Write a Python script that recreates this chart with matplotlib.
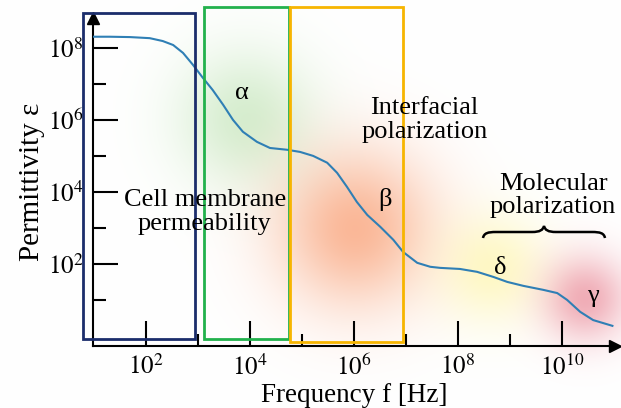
import matplotlib
matplotlib.use("Agg")
import matplotlib.pyplot as plt
import numpy as np
from matplotlib.path import Path
from matplotlib.patches import PathPatch, Rectangle

# ---- data (log10 values)
LOG_F = [0.99, 1.31, 1.70, 2.08, 2.33, 2.53, 2.72, 2.91, 3.10, 3.29, 3.49,
         3.68, 3.87, 4.14, 4.39, 4.72, 4.97, 5.22, 5.49, 5.68, 5.87, 6.06,
         6.26, 6.51, 6.76, 6.95, 7.22, 7.47, 7.66, 8.04, 8.37, 8.68, 8.95,
         9.26, 9.64, 9.91, 10.10, 10.35, 10.60, 10.97]
LOG_EPS = [8.31, 8.31, 8.30, 8.27, 8.19, 8.08, 7.86, 7.53, 7.17, 6.83, 6.42,
           6.00, 5.67, 5.39, 5.22, 5.17, 5.11, 5.00, 4.81, 4.53, 4.14, 3.72,
           3.36, 3.03, 2.67, 2.33, 2.03, 1.92, 1.89, 1.86, 1.78, 1.64, 1.50,
           1.39, 1.28, 1.19, 1.00, 0.67, 0.44, 0.28]

X_TICKS = [2, 4, 6, 8, 10]
X_MINOR = [3, 5, 7, 9]
Y_TICKS = [2, 4, 6, 8]
Y_MINOR = [1, 3, 5, 7]

# frequency bands (log10 f) and vertical extent (log10 eps) of the boxes
BANDS = {
    "membrane":    (0.79, 2.95, -0.08, 8.97),
    "alpha":       (3.12, 4.76, -0.08, 9.14),
    "interfacial": (4.78, 6.95, -0.17, 9.14),
}
BAND_COLORS = {"membrane": "#1b2d6b", "alpha": "#22b14c", "interfacial": "#f7b500"}

GREEK = [("α", 3.86, 6.75), ("β", 6.60, 3.78), ("δ", 8.81, 1.89), ("γ", 10.60, 1.11)]

W, H = 621, 408
plt.rcParams["font.family"] = ["Liberation Serif", "DejaVu Serif"]
plt.rcParams["mathtext.fontset"] = "stix"

fig = plt.figure(figsize=(W / 100, H / 100), dpi=100)

# ---- soft coloured blobs in the background (pixel coords)
bg = fig.add_axes([0, 0, 1, 1], zorder=0)
yy, xx = np.mgrid[0:H, 0:W]
img = np.ones((H, W, 3))
blobs = [  # (cx, cy), sigma, rgb, strength
    ((245, 118), 48, (0.62, 0.84, 0.56), 0.42),
    ((355, 228), 55, (0.97, 0.55, 0.35), 0.62),
    ((492, 268), 38, (1.00, 0.96, 0.60), 0.55),
    ((585, 298), 30, (0.90, 0.45, 0.52), 0.58),
]
for (cx, cy), s, rgb, k in blobs:
    a = k * np.exp(-((xx - cx) ** 2 + (yy - cy) ** 2) / (2 * s ** 2))
    img = img * (1 - a[..., None]) + np.array(rgb) * a[..., None]
bg.imshow(img, extent=(0, W, H, 0), aspect="auto", interpolation="bilinear")
bg.set_xlim(0, W)
bg.set_ylim(H, 0)
bg.axis("off")

# ---- main axes
ax = fig.add_axes([93 / W, (H - 346) / H, (615 - 93) / W, (346 - 18) / H], zorder=1)
ax.patch.set_alpha(0)
ax.set_xscale("log")
ax.set_yscale("log")
ax.set_xlim(10 ** 0.99, 10 ** 11.02)
ax.set_ylim(10 ** -0.28, 10 ** 8.83)

ax.plot(10 ** np.array(LOG_F), 10 ** np.array(LOG_EPS), color="#2f7fb5", lw=1.5,
        solid_joinstyle="round", zorder=3)

for key, (x0, x1, y0, y1) in BANDS.items():
    ax.add_patch(Rectangle((10 ** x0, 10 ** y0), 10 ** x1 - 10 ** x0, 10 ** y1 - 10 ** y0,
                           fill=False, ec=BAND_COLORS[key], lw=2.0, clip_on=False, zorder=4))

for s in ["top", "right"]:
    ax.spines[s].set_visible(False)
for s in ["left", "bottom"]:
    ax.spines[s].set_linewidth(1.5)
ax.plot(1, 0, ">", color="k", ms=9, transform=ax.transAxes, clip_on=False)
ax.plot(0, 1, "^", color="k", ms=9, transform=ax.transAxes, clip_on=False)

ax.set_xticks([10.0 ** t for t in X_TICKS])
ax.set_xticklabels([f"$10^{{{t}}}$" for t in X_TICKS])
ax.set_xticks([10.0 ** t for t in X_MINOR], minor=True)
ax.set_yticks([10.0 ** t for t in Y_TICKS])
ax.set_yticklabels([f"$10^{{{t}}}$" for t in Y_TICKS])
ax.set_yticks([10.0 ** t for t in Y_MINOR], minor=True)
ax.xaxis.set_minor_formatter(plt.NullFormatter())
ax.yaxis.set_minor_formatter(plt.NullFormatter())
ax.tick_params(which="major", direction="in", length=18, width=1.5, labelsize=18, pad=7)
ax.tick_params(which="minor", direction="in", length=9, width=1.5)
ax.tick_params(axis="x", which="major", pad=6)

ax.set_xlabel("Frequency f [Hz]", fontsize=19.5)
ax.xaxis.set_label_coords(0.5, -0.113)
ax.set_ylabel("Permittivity ε", fontsize=21, labelpad=2)

# ---- annotations
ax.text(10 ** 3.14, 10 ** 3.45, "Cell membrane\npermeability", fontsize=19,
        ha="center", va="center", linespacing=1.1, zorder=5)
ax.text(10 ** 7.36, 10 ** 6.00, "Interfacial\npolarization", fontsize=19,
        ha="center", va="center", linespacing=1.1, zorder=5)
ax.text(10 ** 9.83, 10 ** 3.90, "Molecular\npolarization", fontsize=19,
        ha="center", va="center", linespacing=1.1, zorder=5)
for g, x, y in GREEK:
    ax.text(10 ** x, 10 ** y, g, fontsize=19, ha="center", va="center", zorder=5)

# curly brace under "Molecular polarization" (pixel coords -> figure fraction)
pts = [(483, 238), (484, 233), (488, 232), (496, 232), (532, 232),
       (540, 232), (543, 230), (544, 226), (545, 230), (548, 232), (556, 232),
       (592, 232), (600, 232), (604, 233), (605, 238)]
codes = [Path.MOVETO, Path.CURVE4, Path.CURVE4, Path.CURVE4, Path.LINETO,
         Path.CURVE4, Path.CURVE4, Path.CURVE4, Path.CURVE4, Path.CURVE4, Path.CURVE4,
         Path.LINETO, Path.CURVE4, Path.CURVE4, Path.CURVE4]
brace = Path([(x / W, 1 - y / H) for x, y in pts], codes)
fig.add_artist(PathPatch(brace, fill=False, lw=1.8, ec="k", transform=fig.transFigure))

fig.savefig("out.png", dpi=100)
